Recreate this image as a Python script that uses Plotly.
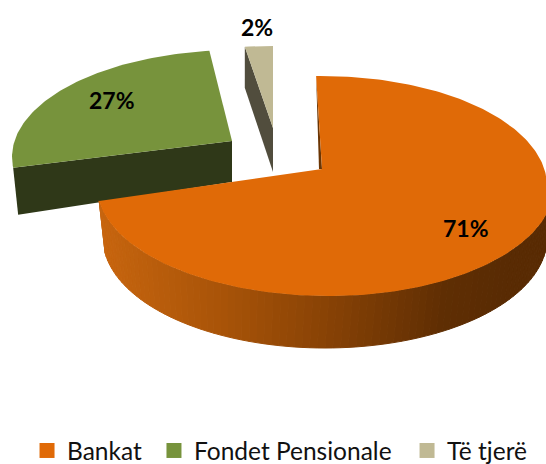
import math
import plotly.graph_objects as go

# ---- data ----
categories = ["Bankat", "Fondet Pensionale", "Të tjerë"]
values = [71, 27, 2]
top_colors = ["#E06A07", "#77933C", "#C0B994"]
wall_colors = ["#6B3503", "#2F3818", "#514D3D"]
label_x = [466, 112, 257]
label_y = [228, 100, 27]
legend_names = ["legend", "legend2", "legend3"]
legend_x = [0.0495, 0.282, 0.7455]

# ---- projection of each exploded slice (pixels of the 546x464 canvas) ----
geometry = [
    dict(apex=(322, 169), cy=186, b=110, ur=(322, 225), lr=(329, 225), ll=(329, 232), ul=(322, 225),
         t0=-1.5, warp=1.0317, wall_apex=(-3, 0), wall_end=(0, 0)),
    dict(apex=(232, 141), cy=157, b=107, ur=(237, 225), lr=(237, 225), ll=(237, 225), ul=(237, 225),
         t0=264.2, warp=0.913, wall_apex=(0, 41), wall_end=(5, 47)),
    dict(apex=(273, 128), cy=128, b=82, ur=(273, 225), lr=(273, 225), ll=(273, 225), ul=(273, 225),
         t0=352.8, warp=1.0, wall_apex=(0, 44), wall_end=(0, 41)),
]
base_ellipse = dict(cx=325, cy=238, a=222, b=110)
shade_stops = [(98, (201, 102, 15)), (220, (169, 84, 8)), (330, (134, 65, 5)),
               (440, (95, 46, 3)), (500, (89, 43, 3)), (560, (89, 43, 3))]


def arc_point(g, t):
    r = math.radians(t)
    s, c = math.sin(r), math.cos(r)
    key = ("u" if c >= 0 else "l") + ("r" if s >= 0 else "l")
    cx, a = g[key]
    return cx + a * s, g["cy"] - g["b"] * c


def shade(x):
    for (x0, c0), (x1, c1) in zip(shade_stops, shade_stops[1:]):
        if x <= x1:
            f = max(0, (x - x0) / (x1 - x0))
            return "rgb(%d,%d,%d)" % tuple(round(p + (q - p) * f) for p, q in zip(c0, c1))
    return "rgb(89,43,3)"


def poly(xs, ys, color, line=0):
    return go.Scatter(x=xs, y=ys, mode="lines", fill="toself", fillcolor=color,
                      line=dict(color=color, width=line), showlegend=False, hoverinfo="skip")


fig = go.Figure()
total = sum(values)

# back to front: small slice, green slice, main slice
for i in [2, 1, 0]:
    g = geometry[i]
    sweep = values[i] / total * 360 * g["warp"]
    t1 = g["t0"] + sweep
    n = max(4, int(sweep))
    pts = [arc_point(g, g["t0"] + sweep * k / n) for k in range(n + 1)]
    ax, ay = g["apex"]

    if i == 0:
        # curved outer rim
        t = 90.0
        while t < t1:
            t2 = min(t + 2, t1)
            p, q = arc_point(g, t), arc_point(g, t2)
            bx = base_ellipse
            r, r2 = math.radians(t), math.radians(t2)
            u = (bx["cx"] + bx["a"] * math.sin(r), bx["cy"] - bx["b"] * math.cos(r))
            v = (bx["cx"] + bx["a"] * math.sin(r2), bx["cy"] - bx["b"] * math.cos(r2))
            fig.add_trace(poly([p[0], q[0], v[0], u[0], p[0]], [p[1], q[1], v[1], u[1], p[1]],
                              shade((u[0] + v[0]) / 2), 1))
            t = t2
        # inner wall at the start of the slice
        sx, sy = pts[0]
        dx, dy = g["wall_apex"]
        fig.add_trace(poly([sx, ax, ax + dx, sx], [sy, ay, ay + dy, sy], wall_colors[i]))
    else:
        # flat cut wall seen from the front
        ex, ey = pts[0]
        dx, dy = g["wall_apex"]
        fx, fy = g["wall_end"]
        fig.add_trace(poly([ax, ex, ex + fx, ax + dx, ax], [ay, ey, ey + fy, ay + dy, ay], wall_colors[i]))

    fig.add_trace(poly([ax] + [p[0] for p in pts] + [ax], [ay] + [p[1] for p in pts] + [ay], top_colors[i]))

# legend keys
for name, color, leg in zip(categories, top_colors, legend_names):
    fig.add_trace(go.Scatter(x=[None], y=[None], mode="markers", name=name, legend=leg, showlegend=True,
                             marker=dict(symbol="square", size=15, color=color)))

annotations = [
    dict(x=x, y=y, xref="x", yref="y", text=f"<b>{v}%</b>", showarrow=False,
         font=dict(family="Lato", size=23, color="#000000"))
    for x, y, v in zip(label_x, label_y, values)
]

legend_style = {
    leg: dict(orientation="h", x=lx, y=0.029, xanchor="left", yanchor="middle",
              font=dict(family="Lato", size=24.5, color="#111111"),
              bgcolor="rgba(0,0,0,0)", itemwidth=30)
    for leg, lx in zip(legend_names, legend_x)
}

fig.update_layout(
    width=546, height=464, margin=dict(l=0, r=0, t=0, b=0, autoexpand=False),
    paper_bgcolor="white", plot_bgcolor="white",
    xaxis=dict(range=[0, 546], visible=False, fixedrange=True),
    yaxis=dict(range=[464, 0], visible=False, fixedrange=True),
    annotations=annotations,
    **legend_style,
)
fig.write_html("out.html", config=dict(displayModeBar=False),
               post_script="document.body.style.margin='0';")
